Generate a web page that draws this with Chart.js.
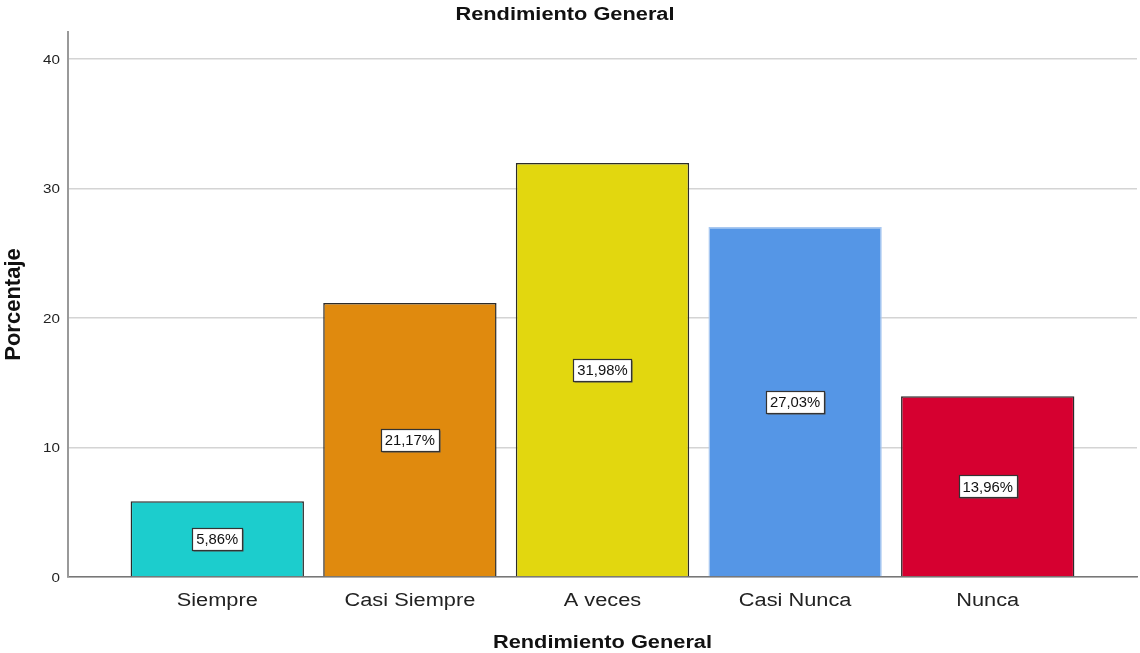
<!DOCTYPE html>
<html>
<head>
<meta charset="utf-8">
<script src="https://cdn.jsdelivr.net/npm/chart.js@4"></script>
<style>
  html, body { margin: 0; padding: 0; background: #fff; }
  #wrap { width: 1140px; height: 653px; }
</style>
</head>
<body>
<div id="wrap"><canvas id="myChart"></canvas></div>
<script>
// data
var chartTitle = "Rendimiento General";
var xTitle = "Rendimiento General";
var yTitle = "Porcentaje";
var categories = ["Siempre", "Casi Siempre", "A veces", "Casi Nunca", "Nunca"];
var percentages = [5.86, 21.17, 31.98, 27.03, 13.96];
var barColors = ['#1ccdcd', '#e08a0e', '#e2d70f', '#5596e6', '#d60030'];
var barBorders = ['#2b2b2b', '#2b2b2b', '#2b2b2b', '#a9c8f0', '#2b2b2b'];
var yTicks = [0, 10, 20, 30, 40];

var FONT = '"Liberation Sans", Arial, sans-serif';

// bars sit on a numeric x axis (1..5) so the plot can run wider than the bars
var points = percentages.map(function (v, i) { return { x: i + 1, y: v }; });

function fmt(v) {
  return v.toFixed(2).replace('.', ',') + '%';
}

// the original picture is a bit wider than tall, so horizontal text gets stretched
function wideText(c, txt, x, y, sx) {
  c.save();
  c.translate(x, y);
  c.scale(sx, 1);
  c.fillText(txt, 0, 0);
  c.restore();
}

// white value boxes in the middle of each bar
var valueBoxes = {
  id: 'valueBoxes',
  afterDatasetsDraw: function (chart) {
    var c = chart.ctx;
    var meta = chart.getDatasetMeta(0);
    c.save();
    c.font = '14px ' + FONT;
    c.textAlign = 'center';
    c.textBaseline = 'middle';
    meta.data.forEach(function (bar, i) {
      var txt = fmt(percentages[i]);
      var w = Math.round(c.measureText(txt).width * 1.06 + 8);
      var h = 22;
      var cx = bar.x;
      var cy = (bar.y + bar.base) / 2;
      var x0 = Math.round(cx - w / 2) + 0.5;
      var y0 = Math.round(cy - h / 2) + 0.5;
      c.fillStyle = '#555';
      c.fillRect(x0 + 1, y0 + 1, w, h);
      c.fillStyle = '#fff';
      c.fillRect(x0, y0, w, h);
      c.strokeStyle = '#333';
      c.lineWidth = 1.2;
      c.strokeRect(x0, y0, w, h);
      c.fillStyle = '#111';
      wideText(c, txt, cx, cy + 1.5, 1.06);
    });
    c.restore();
  }
};

// titles and tick labels
var textLayer = {
  id: 'textLayer',
  afterDraw: function (chart) {
    var c = chart.ctx;
    var xs = chart.scales.x, ys = chart.scales.y, area = chart.chartArea;
    c.save();
    c.textAlign = 'center';
    c.textBaseline = 'middle';
    c.fillStyle = '#111';
    c.font = 'bold 18px ' + FONT;
    wideText(c, chartTitle, chart.width / 2 - 5, 15, 1.21);
    wideText(c, xTitle, (area.left + area.right) / 2, 643.5, 1.21);

    c.fillStyle = '#222';
    c.font = '18px ' + FONT;
    categories.forEach(function (name, i) {
      wideText(c, name, xs.getPixelForValue(i + 1), area.bottom + 24, 1.21);
    });

    c.textAlign = 'right';
    c.font = '13px ' + FONT;
    yTicks.forEach(function (v) {
      wideText(c, String(v), area.left - 8, ys.getPixelForValue(v) + 1, 1.17);
    });

    c.fillStyle = '#111';
    c.textAlign = 'center';
    c.font = 'bold 22px ' + FONT;
    c.translate(14, (area.top + area.bottom) / 2);
    c.rotate(-Math.PI / 2);
    c.fillText(yTitle, 0, 0);
    c.restore();
  }
};

var ctx = document.getElementById('myChart');
var myChart = new Chart(ctx, {
  type: 'bar',
  data: {
    datasets: [{
      label: yTitle,
      data: points,
      backgroundColor: barColors,
      borderColor: barBorders,
      borderWidth: 1.5,
      barPercentage: 0.9,
      categoryPercentage: 1.0
    }]
  },
  plugins: [valueBoxes, textLayer],
  options: {
    responsive: true,
    maintainAspectRatio: false,
    animation: false,
    layout: { padding: { left: 0, right: 3, top: 32, bottom: 0 } },
    plugins: {
      legend: { display: false },
      tooltip: { enabled: false },
      title: { display: false }
    },
    scales: {
      x: {
        type: 'linear',
        min: 0.225,
        max: 5.775,
        offset: false,
        afterBuildTicks: function (s) {
          s.ticks = s.ticks.filter(function (t) { return Number.isInteger(t.value) && t.value >= 1 && t.value <= 5; });
        },
        afterFit: function (s) { s.height = 76; },
        ticks: { display: false, stepSize: 1 },
        grid: { display: false, drawTicks: false },
        border: { display: true, color: '#777', width: 1.5 }
      },
      y: {
        min: 0,
        max: 42.1,
        afterBuildTicks: function (s) {
          s.ticks = yTicks.map(function (v) { return { value: v }; });
        },
        afterFit: function (s) { s.width = 68; },
        ticks: { display: false },
        grid: { color: '#d4d4d4', lineWidth: 1.5, drawTicks: false },
        border: { display: true, color: '#999', width: 2 }
      }
    }
  }
});
</script>
</body>
</html>
